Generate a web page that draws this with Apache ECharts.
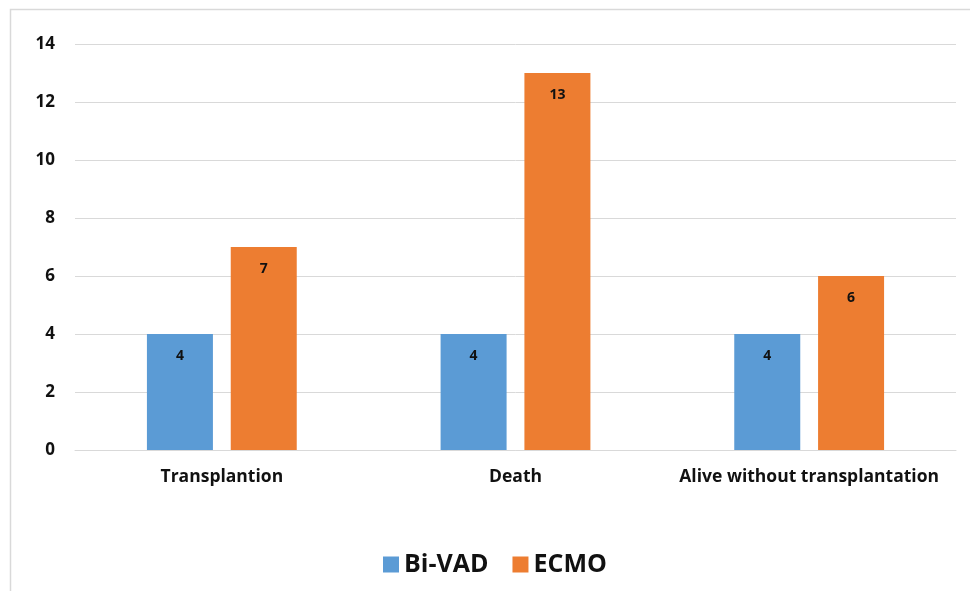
<!DOCTYPE html>
<html>
<head>
<meta charset="utf-8">
<script src="https://cdn.jsdelivr.net/npm/echarts@6/dist/echarts.min.js"></script>
<style>
  html, body { margin: 0; padding: 0; background: #fff; }
  #chart { width: 970px; height: 591px; }
</style>
</head>
<body>
<div id="chart"></div>
<script>
// Outcome counts per support type
const categories = ['Transplantion', 'Death', 'Alive without transplantation'];
const biVad = [4, 4, 4];
const ecmo = [7, 13, 6];
const seriesNames = ['Bi-VAD', 'ECMO'];

const FONT = '"Open Sans", "Noto Sans", sans-serif';
const chart = echarts.init(document.getElementById('chart'));

const labelStyle = {
  show: true,
  position: 'insideTop',
  distance: 15,
  color: '#111',
  fontFamily: FONT,
  fontWeight: 'bold',
  fontSize: 14
};

chart.setOption({
  animation: false,
  graphic: [{
    type: 'rect',
    shape: { x: 10.5, y: 9.5, width: 1000, height: 700 },
    style: { fill: 'none', stroke: '#d9d9d9', lineWidth: 1.5 },
    silent: true
  }],
  grid: { left: 75, right: 14, top: 44, bottom: 141 },
  legend: {
    bottom: 9,
    left: 378,
    itemWidth: 16,
    itemHeight: 16,
    itemGap: 24,
    icon: 'rect',
    textStyle: { fontFamily: FONT, fontWeight: 'bold', fontSize: 25, color: '#111' },
    data: seriesNames
  },
  xAxis: {
    type: 'category',
    data: categories,
    axisLine: { lineStyle: { color: '#d9d9d9' } },
    axisTick: { show: false },
    axisLabel: { interval: 0, margin: 18, color: '#111', fontFamily: FONT, fontWeight: 'bold', fontSize: 17.5 }
  },
  yAxis: {
    type: 'value',
    min: 0,
    max: 14,
    interval: 2,
    axisLine: { show: false },
    axisTick: { show: false },
    splitLine: { lineStyle: { color: '#d9d9d9' } },
    axisLabel: { margin: 20, color: '#111', fontFamily: FONT, fontWeight: 'bold', fontSize: 17 }
  },
  series: [
    {
      name: seriesNames[0], type: 'bar', data: biVad,
      barWidth: 66, barGap: '27%',
      itemStyle: { color: '#5B9BD5' },
      label: labelStyle
    },
    {
      name: seriesNames[1], type: 'bar', data: ecmo,
      barWidth: 66,
      itemStyle: { color: '#ED7D31' },
      label: labelStyle
    }
  ]
});
</script>
</body>
</html>
